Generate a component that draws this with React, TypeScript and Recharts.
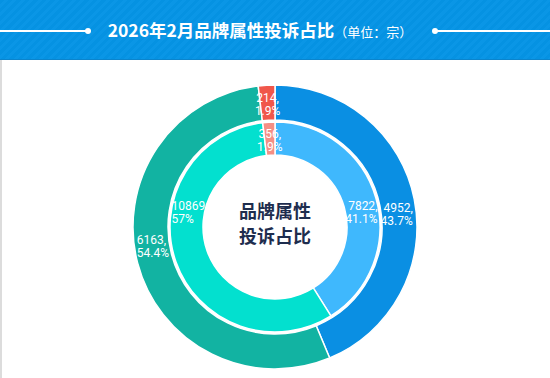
import React from "react";
import { Cell, Pie, PieChart } from "recharts";

const categories = ["蓝", "青", "红"];
const outerValues = [4952, 6163, 214];
const innerValues = [7822, 10869, 356];

const outerColors = ["#0a8fe3", "#12b3a2", "#f0574b"];
const innerColors = ["#3fb8fd", "#03e0cf", "#f48f85"];

const title = "2026年2月品牌属性投诉占比";
const unit = "（单位：宗）";
const centerLines = ["品牌属性", "投诉占比"];

// percentages that add up to 100 (largest remainder, one decimal)
const percents = (vals: number[]) => {
  const total = vals.reduce((a, b) => a + b, 0);
  const raw = vals.map((v) => (v / total) * 1000);
  const floors = raw.map((r) => Math.floor(r));
  let left = 1000 - floors.reduce((a, b) => a + b, 0);
  const order = raw
    .map((r, i) => ({ i, rem: r - floors[i] }))
    .sort((a, b) => b.rem - a.rem);
  for (let k = 0; k < left; k++) floors[order[k].i] += 1;
  return floors.map((f) => String(f / 10));
};

const outerData = categories.map((name, i) => ({ name, value: outerValues[i] }));
const innerData = categories.map((name, i) => ({ name, value: innerValues[i] }));
const outerPct = percents(outerValues);
const innerPct = percents(innerValues);

const RAD = Math.PI / 180;

// big slices get their label pulled toward the horizontal, small ones stay on the mid angle
const makeLabel = (pcts: string[], pull: number, lift: number) => (props: any) => {
  const { cx, cy, midAngle, startAngle, endAngle, innerRadius, outerRadius, value, index } = props;
  const span = Math.abs(endAngle - startAngle);
  let a = ((midAngle % 360) + 360) % 360;
  let dy = 0;
  if (span > 90) {
    const target = Math.cos(a * RAD) >= 0 ? (a > 180 ? 360 : 0) : 180;
    a = a + pull * (target - a);
    dy = -lift;
  }
  const r = (innerRadius + outerRadius) / 2;
  const x = cx + r * Math.cos(-a * RAD);
  const y = cy + r * Math.sin(-a * RAD) + dy;
  const side = span > 90 ? (Math.cos(a * RAD) >= 0 ? "end" : "start") : "middle";
  const tx = side === "end" ? x + 14 : side === "start" ? x - 15 : x;
  return (
    <text
      x={tx}
      y={y}
      fill="#fff"
      fontSize={12}
      fontFamily="Roboto, 'Noto Sans CJK SC', sans-serif"
      textAnchor={side}
    >
      <tspan x={tx} dy={-1}>{value},</tspan>
      <tspan x={tx} dy={13}>{pcts[index]}%</tspan>
    </text>
  );
};

export default function App() {
  return (
    <div
      style={{
        position: "absolute",
        left: 0,
        top: 0,
        width: 550,
        height: 378,
        background: "#fff",
        overflow: "hidden",
        fontFamily: "'Noto Sans CJK SC', sans-serif",
      }}
    >
      <div
        style={{
          position: "relative",
          height: 59,
          background:
            "repeating-linear-gradient(135deg, #0592e2 0px, #0592e2 3px, #0a96e6 3px, #0a96e6 6px)",
          borderBottom: "1px solid #0b84cc",
        }}
      >
        <div style={{ position: "absolute", left: 0, top: 30, width: 88, height: 1.5, background: "#fff" }} />
        <div style={{ position: "absolute", left: 85, top: 27.5, width: 6, height: 6, borderRadius: 3, background: "#fff" }} />
        <div style={{ position: "absolute", left: 435, top: 30, width: 115, height: 1.5, background: "#fff" }} />
        <div style={{ position: "absolute", left: 432, top: 27.5, width: 6, height: 6, borderRadius: 3, background: "#fff" }} />
        <div
          style={{
            position: "absolute",
            left: 95,
            width: 330,
            top: 18,
            textAlign: "center",
            color: "#fff",
            whiteSpace: "nowrap",
            lineHeight: "24px",
          }}
        >
          <span style={{ fontSize: 17.5, fontWeight: 700 }}>{title}</span>
          <span style={{ fontSize: 13 }}>{unit}</span>
        </div>
      </div>
      <div style={{ position: "absolute", left: 0, top: 60, width: 2, height: 318, background: "#dcdcdc" }} />
      <div style={{ position: "absolute", left: 0, top: 60 }}>
        <PieChart width={550} height={318} margin={{ top: 0, right: 0, bottom: 0, left: 0 }}>
          <Pie
            data={outerData}
            dataKey="value"
            cx={275}
            cy={167}
            innerRadius={107}
            outerRadius={142}
            startAngle={90}
            endAngle={-270}
            stroke="#fff"
            strokeWidth={1.5}
            label={makeLabel(outerPct, 0.45, 0)}
            labelLine={false}
            isAnimationActive={false}
          >
            {outerData.map((d, i) => (
              <Cell key={d.name} fill={outerColors[i]} />
            ))}
          </Pie>
          <Pie
            data={innerData}
            dataKey="value"
            cx={275}
            cy={167}
            innerRadius={72}
            outerRadius={105}
            startAngle={90}
            endAngle={-270}
            stroke="#fff"
            strokeWidth={1.5}
            label={makeLabel(innerPct, 1, 16)}
            labelLine={false}
            isAnimationActive={false}
          >
            {innerData.map((d, i) => (
              <Cell key={d.name} fill={innerColors[i]} />
            ))}
          </Pie>
        </PieChart>
      </div>
      <div
        style={{
          position: "absolute",
          left: 205,
          width: 140,
          top: 198,
          textAlign: "center",
          color: "#1e2d4e",
          fontSize: 18,
          fontWeight: 700,
          lineHeight: "25px",
        }}
      >
        {centerLines.map((l) => (
          <div key={l}>{l}</div>
        ))}
      </div>
    </div>
  );
}
